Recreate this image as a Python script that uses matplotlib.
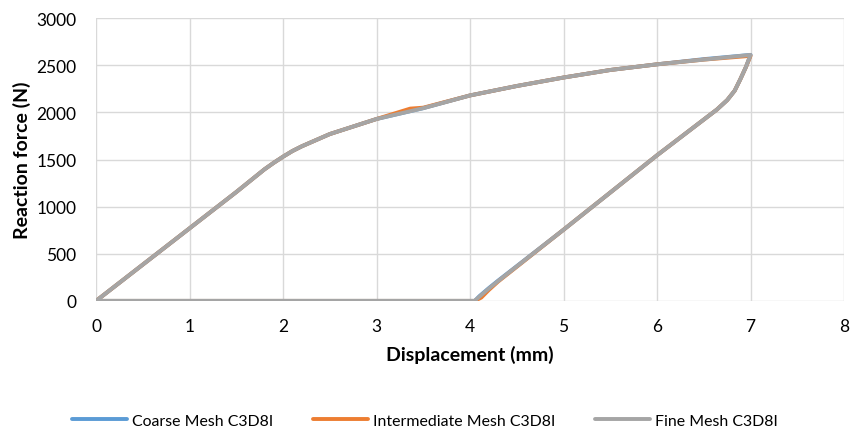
import matplotlib
matplotlib.use("Agg")
import matplotlib.pyplot as plt

plt.rcParams['font.family'] = ['Lato', 'DejaVu Sans']

series_names = ["Coarse Mesh C3D8I", "Intermediate Mesh C3D8I", "Fine Mesh C3D8I"]
colors = ["#5B9BD5", "#ED7D31", "#A5A5A5"]

coarse_x = [0, 0.5, 1, 1.5, 1.8, 1.9, 2.0, 2.1, 2.2, 2.5, 3.0, 3.5, 4.0, 4.5, 5.0, 5.5, 6.0, 6.5, 7.0,
            6.95, 6.89, 6.83, 6.75, 6.64, 6.0, 5.0, 4.3, 4.2, 4.1, 4.05, 3, 2, 1, 0]
coarse_y = [0, 385, 770, 1155, 1395, 1465, 1530, 1590, 1640, 1770, 1930, 2045, 2180, 2280, 2370, 2450, 2510, 2565, 2610,
            2480, 2350, 2230, 2130, 2030, 1545, 755, 215, 135, 50, 0, 0, 0, 0, 0]

inter_x = [0, 0.5, 1, 1.5, 1.8, 1.9, 2.0, 2.1, 2.2, 2.5, 3.0, 3.36, 3.5, 4.0, 4.5, 5.0, 5.5, 6.0, 6.5, 7.0,
           6.95, 6.89, 6.83, 6.75, 6.64, 6.0, 5.0, 4.3, 4.2, 4.12, 4.05, 3, 2, 1, 0]
inter_y = [0, 385, 770, 1155, 1395, 1465, 1530, 1590, 1640, 1770, 1930, 2040, 2050, 2180, 2280, 2370, 2450, 2510, 2560, 2600,
           2480, 2350, 2230, 2130, 2030, 1545, 755, 205, 115, 35, 0, 0, 0, 0, 0]

fine_x = [0, 0.5, 1, 1.5, 1.8, 1.9, 2.0, 2.1, 2.2, 2.5, 3.0, 3.5, 4.0, 4.5, 5.0, 5.5, 6.0, 6.5, 7.0,
          6.95, 6.89, 6.83, 6.75, 6.64, 6.0, 5.0, 4.3, 4.2, 4.1, 4.05, 3, 2, 1, 0]
fine_y = [0, 385, 770, 1155, 1395, 1465, 1530, 1590, 1640, 1770, 1930, 2045, 2180, 2280, 2370, 2450, 2510, 2560, 2610,
          2480, 2350, 2230, 2130, 2030, 1545, 755, 210, 130, 45, 0, 0, 0, 0, 0]

xs = [coarse_x, inter_x, fine_x]
ys = [coarse_y, inter_y, fine_y]

fig = plt.figure(figsize=(8.5, 4.35), dpi=100)
ax = fig.add_axes([0.113, 0.306, 0.88, 0.65])

for x, y, c, n in zip(xs, ys, colors, series_names):
    ax.plot(x, y, color=c, lw=2.8, label=n, solid_joinstyle='round', solid_capstyle='round')

ax.set_xlim(0, 8)
ax.set_ylim(0, 3000)
ax.set_xticks(range(0, 9))
ax.set_yticks(range(0, 3001, 500))
ax.grid(True, color="#D9D9D9", lw=1)
ax.set_axisbelow(True)
for s in ax.spines.values():
    s.set_visible(False)
ax.tick_params(length=0, labelsize=12.5, colors="#000000")
ax.tick_params(axis='x', pad=12)
ax.tick_params(axis='y', pad=14)
ax.set_xlabel("Displacement (mm)", fontsize=14, fontweight='bold', labelpad=8)
ax.set_ylabel("Reaction force (N)", fontsize=14, fontweight='bold', labelpad=4)

fig.legend(loc='center', bbox_to_anchor=(0.5, 0.03), ncol=3, frameon=False,
           fontsize=11.4, handlelength=3.5, columnspacing=2.5, handletextpad=0.3)

fig.savefig("out.png", dpi=100)
